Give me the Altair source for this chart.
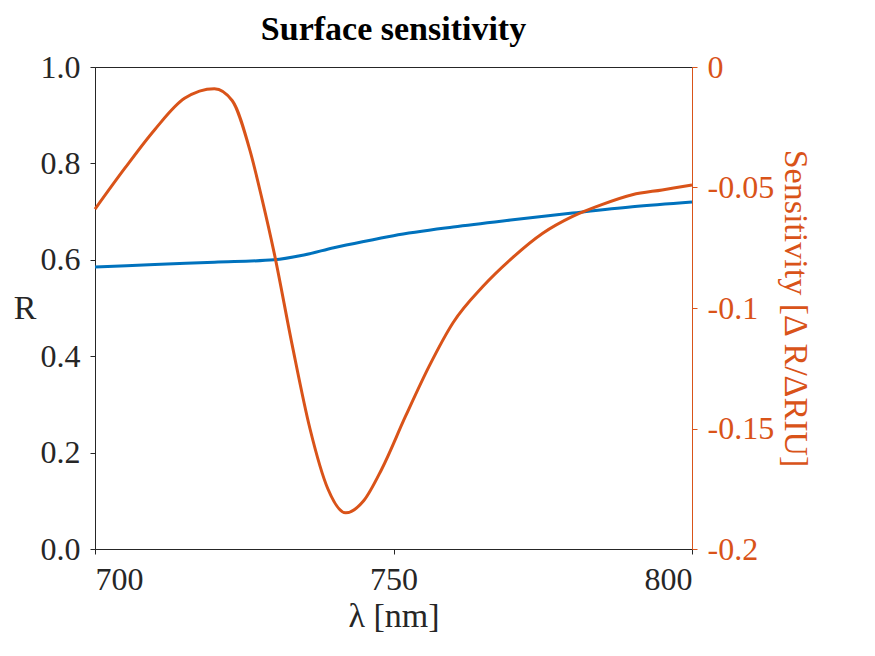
import pandas as pd
import altair as alt

wl_r = [700, 710, 720, 730, 735, 740, 745, 750, 760, 770, 780, 790, 800]
refl = [0.585, 0.59, 0.595, 0.60, 0.61, 0.625, 0.638, 0.65, 0.668, 0.683, 0.697, 0.71, 0.72]

wl_s = [700, 705, 710, 715, 720, 723, 726, 728, 730, 733, 736, 739, 742, 745, 748,
        752, 756, 760, 765, 770, 775, 780, 785, 790, 795, 800]
sens = [-0.059, -0.042, -0.026, -0.013, -0.009, -0.014, -0.035, -0.055, -0.077, -0.115,
        -0.150, -0.175, -0.185, -0.180, -0.167, -0.145, -0.124, -0.106, -0.091, -0.079,
        -0.069, -0.062, -0.057, -0.053, -0.051, -0.049]

FONT = "Liberation Serif"
BLUE = "#0072BD"
ORANGE = "#D95319"

df_r = pd.DataFrame({"wl": wl_r, "R": refl})
df_s = pd.DataFrame({"wl": wl_s, "S": sens})

x = alt.X("wl:Q", title="λ [nm]", scale=alt.Scale(domain=[700, 800], nice=False),
          axis=alt.Axis(values=[700, 750, 800], grid=False))

left = alt.Chart(df_r).mark_line(color=BLUE, strokeWidth=3, interpolate="monotone").encode(
    x,
    alt.Y("R:Q", title="R", scale=alt.Scale(domain=[0, 1]),
          axis=alt.Axis(values=[0, 0.2, 0.4, 0.6, 0.8, 1], grid=False, titleAngle=0,
                        titleAlign="right", titleBaseline="middle")),
)

right = alt.Chart(df_s).mark_line(color=ORANGE, strokeWidth=3, interpolate="monotone").encode(
    x,
    alt.Y("S:Q", title="Sensitivity [Δ R/ΔRIU]", scale=alt.Scale(domain=[-0.2, 0]),
          axis=alt.Axis(orient="right", values=[-0.2, -0.15, -0.1, -0.05, 0], grid=False,
                        labelExpr="replace(format(datum.value, '.2~f'), '−', '-')",
                        labelColor=ORANGE, titleColor=ORANGE,
                        domainColor=ORANGE, tickColor=ORANGE)),
)

chart = alt.layer(left, right).resolve_scale(y="independent").properties(
    width=597, height=482,
    title=alt.Title("Surface sensitivity", font=FONT, fontSize=34, fontWeight="bold", color="black"),
).configure_axis(
    labelFont=FONT, titleFont=FONT, labelFontSize=32, titleFontSize=34,
    labelColor="#262626", titleColor="#262626", titleFontWeight="normal",
    domainColor="#262626", tickColor="#262626", tickSize=5, labelPadding=10,
).configure_view(stroke="#262626")

chart.save("out.html", embed_options={"renderer": "svg", "actions": False})
